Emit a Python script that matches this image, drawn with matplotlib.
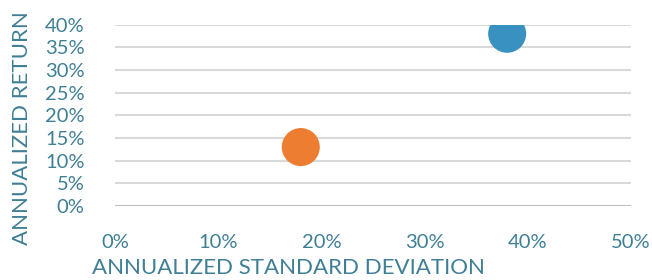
import matplotlib
matplotlib.use('Agg')
import matplotlib.pyplot as plt
from matplotlib.ticker import PercentFormatter

# data
std_dev = [0.38, 0.18]
returns = [0.38, 0.13]
colors = ['#3891C0', '#ED7D31']

x_ticks = [0, 0.1, 0.2, 0.3, 0.4, 0.5]
y_ticks = [0, 0.05, 0.10, 0.15, 0.20, 0.25, 0.30, 0.35, 0.40]

text_color = '#3F7F96'
plt.rcParams['font.family'] = ['Lato', 'DejaVu Sans']

fig = plt.figure(figsize=(6.52, 2.80), dpi=100)
ax = fig.add_axes([0.1764, 0.2643, 0.7914, 0.6475])

for y in y_ticks:
    ax.axhline(y, color='#BFBFBF' if y == 0 else '#D9D9D9', lw=1.5, zorder=1)

ax.scatter(std_dev, returns, s=750, c=colors, edgecolors='none', zorder=3)

ax.set_xlim(0, 0.5)
ax.set_ylim(0, 0.4)
ax.set_xticks(x_ticks)
ax.set_yticks(y_ticks)
ax.xaxis.set_major_formatter(PercentFormatter(1.0, decimals=0))
ax.yaxis.set_major_formatter(PercentFormatter(1.0, decimals=0))
ax.tick_params(length=0, labelsize=14.5, colors=text_color)
ax.tick_params(axis='y', pad=22)
ax.tick_params(axis='x', pad=20)
for s in ax.spines.values():
    s.set_visible(False)

# axis titles placed like the reference (not centred on the plot area)
fig.text(92 / 652, 1 - 268 / 280, 'ANNUALIZED STANDARD DEVIATION', fontsize=16,
         color=text_color, ha='left', va='center')
fig.text(22 / 652, 1 - 245 / 280, 'ANNUALIZED RETURN', fontsize=16,
         color=text_color, rotation=90, ha='center', va='bottom')

plt.savefig('out.png', dpi=100)
